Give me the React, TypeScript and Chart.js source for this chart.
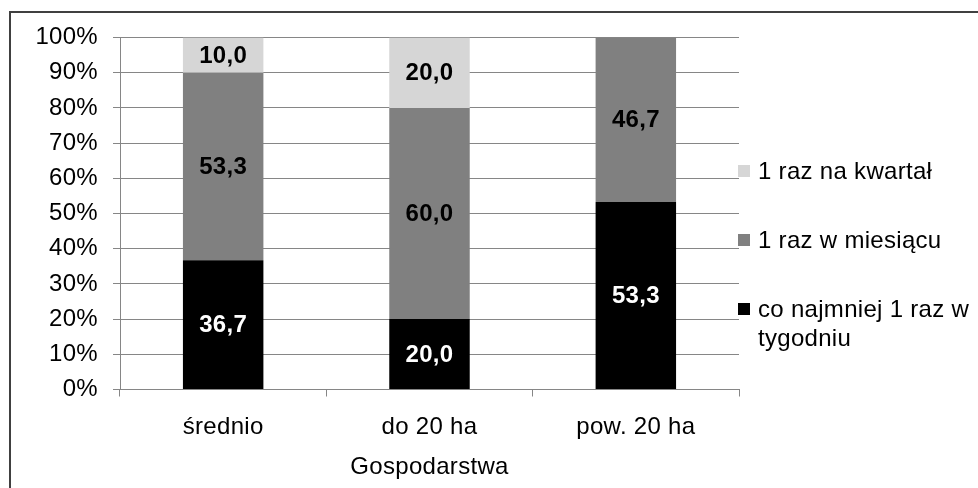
import React, { useEffect, useRef } from "react";
import { Chart, registerables } from "chart.js";

Chart.register(...registerables);

const categories = ["średnio", "do 20 ha", "pow. 20 ha"];
const weekly = [36.7, 20.0, 53.3];
const monthly = [53.3, 60.0, 46.7];
const quarterly = [10.0, 20.0, 0];
const yTicks = [0, 10, 20, 30, 40, 50, 60, 70, 80, 90, 100];

const seriesNames = ["co najmniej 1 raz w tygodniu", "1 raz w miesiącu", "1 raz na kwartał"];
const legendLines = [["co najmniej 1 raz w", "tygodniu"], ["1 raz w miesiącu"], ["1 raz na kwartał"]];
const colors = ["#000000", "#808080", "#d6d6d6"];
const labelColors = ["#ffffff", "#000000", "#000000"];

const FONT = "'Liberation Sans', Arial, sans-serif";
const FS = 24;
const GRID = "#868686";

const framePlugin = {
  id: "frame",
  beforeDraw(chart: any) {
    const ctx = chart.ctx;
    ctx.save();
    ctx.fillStyle = "#ffffff";
    ctx.fillRect(0, 0, chart.width, chart.height);
    ctx.strokeStyle = "#404040";
    ctx.lineWidth = 2;
    ctx.beginPath();
    ctx.moveTo(chart.width, 12);
    ctx.lineTo(10, 12);
    ctx.lineTo(10, chart.height);
    ctx.stroke();
    ctx.restore();
  },
};

const valueLabels = {
  id: "valueLabels",
  afterDatasetsDraw(chart: any) {
    const ctx = chart.ctx;
    ctx.save();
    ctx.font = `bold ${FS}px ${FONT}`;
    ctx.textAlign = "center";
    ctx.textBaseline = "middle";
    chart.data.datasets.forEach((ds: any, i: number) => {
      const meta = chart.getDatasetMeta(i);
      meta.data.forEach((el: any, j: number) => {
        const v = ds.data[j];
        if (!v) return;
        ctx.fillStyle = labelColors[i];
        ctx.fillText(v.toFixed(1).replace(".", ","), el.x, (el.y + el.base) / 2 + 1);
      });
    });
    ctx.restore();
  },
};

// Legend drawn to the right of the plot, top entry = top of the stack
const sideLegend = {
  id: "sideLegend",
  afterDraw(chart: any) {
    const ctx = chart.ctx;
    const order = [2, 1, 0];
    const rowY = [171, 240, 309];
    const lineGap = 29;
    ctx.save();
    ctx.font = `${FS}px ${FONT}`;
    ctx.textBaseline = "middle";
    ctx.textAlign = "left";
    order.forEach((idx, k) => {
      const y = rowY[k];
      ctx.fillStyle = colors[idx];
      ctx.fillRect(738, y - 6, 12, 12);
      ctx.fillStyle = "#000000";
      legendLines[idx].forEach((line, li) => {
        ctx.fillText(line, 758, y + 1 + li * lineGap);
      });
    });
    ctx.restore();
  },
};

// A touch of letter spacing for all canvas text
const spacing = {
  id: "spacing",
  beforeInit(chart: any) {
    chart.ctx.letterSpacing = "0.3px";
  },
  beforeDraw(chart: any) {
    chart.ctx.letterSpacing = "0.3px";
  },
};

export default function App() {
  const ref = useRef<HTMLCanvasElement>(null);

  useEffect(() => {
    if (!ref.current) return;
    const chart = new Chart(ref.current, {
      type: "bar",
      data: {
        labels: categories,
        datasets: [
          { label: seriesNames[0], data: weekly, backgroundColor: colors[0] },
          { label: seriesNames[1], data: monthly, backgroundColor: colors[1] },
          { label: seriesNames[2], data: quarterly, backgroundColor: colors[2] },
        ],
      },
      options: {
        animation: false,
        responsive: false,
        maintainAspectRatio: false,
        barPercentage: 0.39,
        categoryPercentage: 1,
        layout: { padding: { left: 0, top: 37.5, right: 239, bottom: 0 } },
        plugins: {
          legend: { display: false },
          tooltip: { enabled: false },
        },
        scales: {
          x: {
            stacked: true,
            grid: {
              offset: true,
              drawOnChartArea: false,
              drawTicks: true,
              tickLength: 7,
              color: GRID,
            },
            border: { display: true, color: GRID },
            ticks: { color: "#000", font: { family: FONT, size: FS }, padding: 16 },
            title: {
              display: true,
              text: "Gospodarstwa",
              color: "#000",
              font: { family: FONT, size: FS },
              padding: { top: 0, bottom: 6 },
            },
            afterFit(scale: any) {
              scale.height = 98.5;
            },
          },
          y: {
            stacked: true,
            min: 0,
            max: 100,
            afterBuildTicks(scale: any) {
              scale.ticks = yTicks.map((v) => ({ value: v }));
            },
            grid: { color: GRID, tickLength: 7, drawTicks: true },
            border: { display: true, color: GRID },
            ticks: {
              color: "#000",
              font: { family: FONT, size: FS },
              padding: 15,
              callback: (v: any) => `${v}%`,
            },
            afterFit(scale: any) {
              scale.width = 120;
            },
          },
        },
      },
      plugins: [spacing, framePlugin, valueLabels, sideLegend],
    });
    return () => chart.destroy();
  }, []);

  return (
    <div style={{ position: "absolute", left: 0, top: 0, width: 978, height: 488 }}>
      <canvas ref={ref} width={978} height={488} />
    </div>
  );
}
